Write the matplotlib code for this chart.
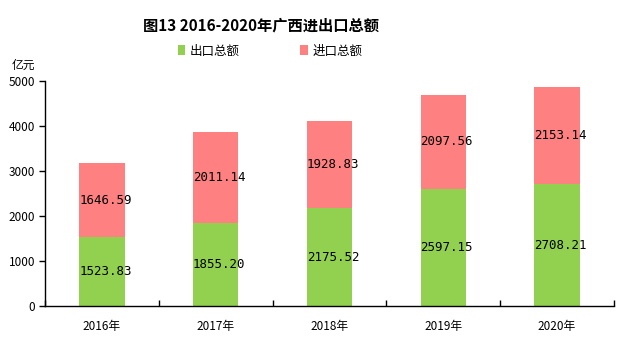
import matplotlib
matplotlib.use("Agg")
import matplotlib.pyplot as plt
import numpy as np

plt.rcParams["font.family"] = ["Noto Sans CJK SC", "DejaVu Sans"]

years = ["2016年", "2017年", "2018年", "2019年", "2020年"]
export_vals = [1523.83, 1855.20, 2175.52, 2597.15, 2708.21]
import_vals = [1646.59, 2011.14, 1928.83, 2097.56, 2153.14]

GREEN = "#92D050"
PINK = "#FF8080"

fig = plt.figure(figsize=(6.18, 3.54), dpi=100)
ax = fig.add_axes([45 / 618, 48 / 354, 569 / 618, 225 / 354])

x = np.arange(len(years))
b1 = ax.bar(x, export_vals, width=0.4, color=GREEN, label="出口总额")
b2 = ax.bar(x, import_vals, width=0.4, bottom=export_vals, color=PINK, label="进口总额")

for xi, e, i in zip(x, export_vals, import_vals):
    ax.text(xi + 0.03, e / 2, f"{e:.2f}", ha="center", va="center",
            fontsize=9, family=["DejaVu Sans Mono"])
    ax.text(xi + 0.03, e + i / 2, f"{i:.2f}", ha="center", va="center",
            fontsize=9, family=["DejaVu Sans Mono"])

ax.set_xlim(-0.5, len(years) - 0.5)
ax.set_ylim(0, 5000)
ax.set_yticks(range(0, 5001, 1000))
ax.set_xticks(x)
ax.set_xticklabels(years)
ax.set_xticks(np.arange(len(years) + 1) - 0.5, minor=True)

for s in ["top", "right"]:
    ax.spines[s].set_visible(False)
for s in ["left", "bottom"]:
    ax.spines[s].set_linewidth(1.0)
    ax.spines[s].set_color("black")

ax.tick_params(axis="x", which="major", length=0, pad=10, labelsize=8.5)
ax.tick_params(axis="x", which="minor", direction="in", length=4, width=1)
ax.tick_params(axis="y", direction="out", length=4, width=1, pad=3, labelsize=8.5)

fig.text(261 / 618, 1 - 25 / 354, "图13 2016-2020年广西进出口总额",
         ha="center", va="center", fontsize=11, fontweight="bold")
fig.text(23 / 618, 1 - 65 / 354, "亿元", ha="center", va="center", fontsize=8.5)

fig.legend(handles=[b1, b2], loc="center", bbox_to_anchor=(270 / 618, 1 - 51 / 354),
           ncol=2, frameon=False, fontsize=9, handlelength=0.6, handleheight=0.8,
           handletextpad=0.4, columnspacing=4.8)

fig.savefig("out.png", dpi=100)
